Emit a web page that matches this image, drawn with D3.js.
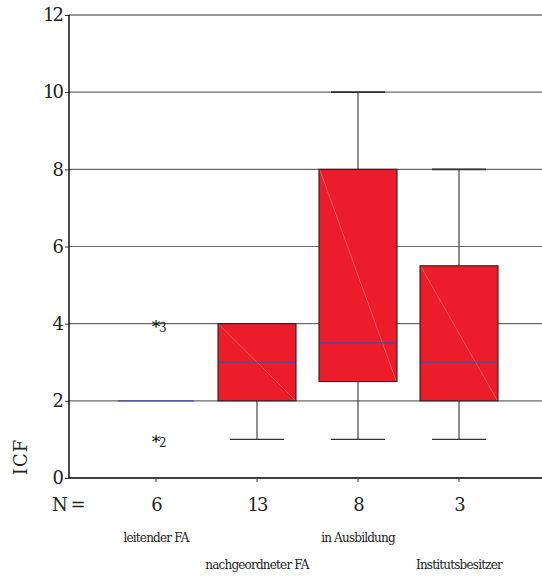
<!DOCTYPE html>
<html>
<head>
<meta charset="utf-8">
<script src="https://cdn.jsdelivr.net/npm/d3@7"></script>
<style>
  body { margin: 0; background: #fff; }
  svg text { font-family: "DejaVu Serif", serif; fill: #222; }
</style>
</head>
<body>
<svg id="chart" width="542" height="576"></svg>
<script>
var groups = ["leitender FA", "nachgeordneter FA", "in Ausbildung", "Institutsbesitzer"];
var counts = [6, 13, 8, 3];
var q1s = [2, 2, 2.5, 2];
var medians = [2, 3, 3.5, 3];
var q3s = [2, 4, 8, 5.5];
var lows = [2, 1, 1, 1];
var highs = [2, 4, 10, 8];
var outlierGroup = [0, 0];
var outlierValue = [4, 1];
var outlierCase = ["3", "2"];
var yTicks = [0, 2, 4, 6, 8, 10, 12];

function draw(){
  var pLeft = 69, pTop = 15, pBottom = 478, pRight = 542;

  var svg = d3.select('#chart');

  var x = d3.scaleBand().domain(groups).range([105.5, 509.5]).paddingInner(0);
  var y = d3.scaleLinear().domain([0, 12]).range([pBottom, pTop]);
  var cx = function(g){ return x(g) + x.bandwidth()/2; };
  var boxW = 78, capW = 54;

  // gridlines
  svg.append('g').selectAll('line').data(yTicks.filter(function(d){ return d > 0; })).enter().append('line')
     .attr('x1', pLeft).attr('x2', pRight)
     .attr('y1', function(d){ return y(d); }).attr('y2', function(d){ return y(d); })
     .attr('stroke', function(d){ return d == 12 ? '#333' : '#6a6a6a'; })
     .attr('stroke-width', 1.2);

  // y axis
  var yax = svg.append('g').attr('transform', 'translate(' + pLeft + ',0)')
     .call(d3.axisLeft(y).tickValues(yTicks).tickSize(4).tickPadding(3));
  yax.attr('font-family', null);
  yax.select('.domain').remove();
  yax.selectAll('line').attr('stroke', '#333');
  yax.selectAll('text').style('font-size', '18px').style('letter-spacing', '-2px').attr('fill', '#222');
  svg.append('line').attr('x1', pLeft).attr('x2', pLeft).attr('y1', pTop).attr('y2', pBottom)
     .attr('stroke', '#000').attr('stroke-width', 1.4);

  // x axis
  svg.append('line').attr('x1', pLeft).attr('x2', pRight).attr('y1', pBottom).attr('y2', pBottom)
     .attr('stroke', '#000').attr('stroke-width', 1.4);
  svg.append('g').selectAll('line').data(groups).enter().append('line')
     .attr('x1', cx).attr('x2', cx).attr('y1', pBottom).attr('y2', pBottom + 4)
     .attr('stroke', '#333');

  // boxes
  var bx = svg.append('g').selectAll('g').data(groups).enter().append('g');

  bx.append('line') // whisker stem
    .attr('x1', cx).attr('x2', cx)
    .attr('y1', function(d,i){ return y(lows[i]); })
    .attr('y2', function(d,i){ return y(highs[i]); })
    .attr('stroke', '#444').attr('stroke-width', 1.2);
  bx.append('line') // lower cap
    .attr('x1', function(d){ return cx(d) - capW/2; }).attr('x2', function(d){ return cx(d) + capW/2; })
    .attr('y1', function(d,i){ return y(lows[i]); }).attr('y2', function(d,i){ return y(lows[i]); })
    .attr('stroke', function(d,i){ return lows[i] == q1s[i] ? 'none' : '#333'; }).attr('stroke-width', 1.4);
  bx.append('line') // upper cap
    .attr('x1', function(d){ return cx(d) - capW/2; }).attr('x2', function(d){ return cx(d) + capW/2; })
    .attr('y1', function(d,i){ return y(highs[i]); }).attr('y2', function(d,i){ return y(highs[i]); })
    .attr('stroke', function(d,i){ return highs[i] == q3s[i] ? 'none' : '#333'; }).attr('stroke-width', 1.8);

  var hasBox = function(d){ var i = groups.indexOf(d); return q3s[i] > q1s[i]; };
  bx.filter(hasBox).append('rect')
    .attr('x', function(d){ return cx(d) - boxW/2; })
    .attr('width', boxW)
    .attr('y', function(d){ return y(q3s[groups.indexOf(d)]); })
    .attr('height', function(d){ var i = groups.indexOf(d); return y(q1s[i]) - y(q3s[i]); })
    .attr('fill', '#ED1C2B').attr('stroke', '#222').attr('stroke-width', 1.1);
  bx.filter(hasBox).append('line') // faint diagonal
    .attr('x1', function(d){ return cx(d) - boxW/2 + 1; })
    .attr('x2', function(d){ return cx(d) + boxW/2 - 1; })
    .attr('y1', function(d){ return y(q3s[groups.indexOf(d)]) + 1; })
    .attr('y2', function(d){ return y(q1s[groups.indexOf(d)]) - 1; })
    .attr('stroke', '#f6a0a0').attr('stroke-width', 0.6).attr('opacity', 0.8);

  bx.append('line') // median
    .attr('x1', function(d){ return cx(d) - boxW/2 + 1; }).attr('x2', function(d){ return cx(d) + boxW/2 - 1; })
    .attr('y1', function(d){ return y(medians[groups.indexOf(d)]); })
    .attr('y2', function(d){ return y(medians[groups.indexOf(d)]); })
    .attr('stroke', '#4a4aa8').attr('stroke-width', 1.2);

  // outliers
  var ol = svg.append('g').selectAll('g').data(outlierValue).enter().append('g')
    .attr('transform', function(d,i){ return 'translate(' + cx(groups[outlierGroup[i]]) + ',' + y(d) + ')'; });
  ol.append('text').attr('text-anchor', 'middle').attr('y', 9).style('font-size', '17px').style('fill', '#000').text('*');
  ol.append('text').attr('x', 3).attr('y', 8).style('font-size', '12px').text(function(d,i){ return outlierCase[i]; });

  // N row
  svg.append('text').attr('x', 52).attr('y', 511).style('font-size', '18px').style('letter-spacing', '-1.5px').text('N =');
  svg.append('g').selectAll('text').data(groups).enter().append('text')
    .attr('x', cx).attr('y', 511).attr('text-anchor', 'middle')
    .style('font-size', '18px').style('letter-spacing', '-2px')
    .text(function(d,i){ return counts[i]; });

  // category labels (staggered)
  svg.append('g').selectAll('text').data(groups).enter().append('text')
    .attr('x', cx).attr('y', function(d,i){ return i % 2 == 0 ? 542 : 569; })
    .attr('text-anchor', 'middle')
    .style('font-size', '12px').style('letter-spacing', '-0.8px')
    .text(function(d){ return d; });

  // y title
  svg.append('text').attr('transform', 'translate(27,457) rotate(-90)')
    .attr('text-anchor', 'middle').style('font-size', '18px').style('letter-spacing', '1px').text('ICF');
}

draw();
</script>
</body>
</html>
